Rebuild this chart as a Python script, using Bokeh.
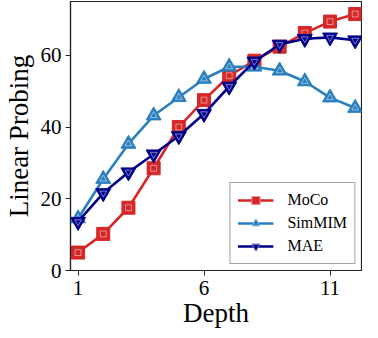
from bokeh.plotting import figure
from bokeh.models import Range1d, FixedTicker, Legend, LegendItem
from bokeh.embed import file_html
from bokeh.resources import INLINE

depth = [1, 2, 3, 4, 5, 6, 7, 8, 9, 10, 11, 12]
moco = [5.0, 10.2, 17.5, 28.5, 40.0, 47.5, 54.3, 58.5, 62.4, 66.2, 69.4, 71.5]
simmim = [14.5, 25.5, 35.3, 43.2, 48.3, 53.4, 56.8, 56.8, 55.7, 52.7, 48.2, 45.3]
mae = [13.6, 21.6, 27.4, 32.4, 37.5, 43.7, 51.3, 58.3, 63.0, 64.6, 65.0, 64.2]
x_ticks = [1, 6, 11]
y_ticks = [0, 20, 40, 60]

FONT = "Liberation Serif"

p = figure(width=362, height=330, output_backend="svg", toolbar_location=None,
           x_range=Range1d(0.7, 12.25), y_range=Range1d(0, 75),
           min_border_left=53, min_border_right=1, min_border_top=1,
           min_border_bottom=0)

p.xgrid.visible = False
p.ygrid.visible = False
p.outline_line_color = "#222222"
p.outline_line_width = 1.2

for ax in (p.xaxis[0], p.yaxis[0]):
    ax.axis_line_color = "#222222"
    ax.axis_line_width = 1.2
    ax.major_tick_line_color = "#222222"
    ax.major_tick_out = 5
    ax.major_tick_in = 0
    ax.minor_tick_line_color = None
    ax.major_label_text_font = FONT
    ax.major_label_text_font_size = "21px"
    ax.major_label_text_color = "black"
    ax.axis_label_text_font = FONT
    ax.axis_label_text_font_size = "27px"
    ax.axis_label_text_font_style = "normal"
    ax.axis_label_text_color = "black"

p.xaxis.ticker = FixedTicker(ticks=x_ticks)
p.yaxis.ticker = FixedTicker(ticks=y_ticks)
p.xaxis.axis_label = "Depth"
p.yaxis.axis_label = "Linear Probing"
p.xaxis.axis_label_standoff = 0
p.yaxis.axis_label_standoff = 4
p.xaxis.major_label_standoff = 5
p.yaxis.major_label_standoff = 4

series = [
    ("MoCo", moco, "#d62728", "square", 13),
    ("SimMIM", simmim, "#2a7fbf", "triangle", 15),
    ("MAE", mae, "#00008b", "inverted_triangle", 15),
]

items = []
for name, ys, col, mk, sz in series:
    ln = p.line(depth, ys, line_color=col, line_width=2.6)
    sc = p.scatter(depth, ys, marker=mk, size=sz, fill_color=col,
                   line_color=col, line_width=1)
    inner = p.scatter(depth, ys, marker=mk, size=sz * 0.45, fill_color=None,
                      line_color="white", line_alpha=0.6, line_width=0.8)
    items.append(LegendItem(label=name, renderers=[ln, sc, inner]))

legend = Legend(items=items, location="bottom_right",
                label_text_font=FONT, label_text_font_size="16px",
                label_text_color="black",
                border_line_color="#444444", border_line_width=1,
                background_fill_alpha=1, glyph_width=36, glyph_height=20,
                label_standoff=14, spacing=3, padding=7, margin=6)
p.add_layout(legend)

open("out.html", "w").write(file_html(p, INLINE))
